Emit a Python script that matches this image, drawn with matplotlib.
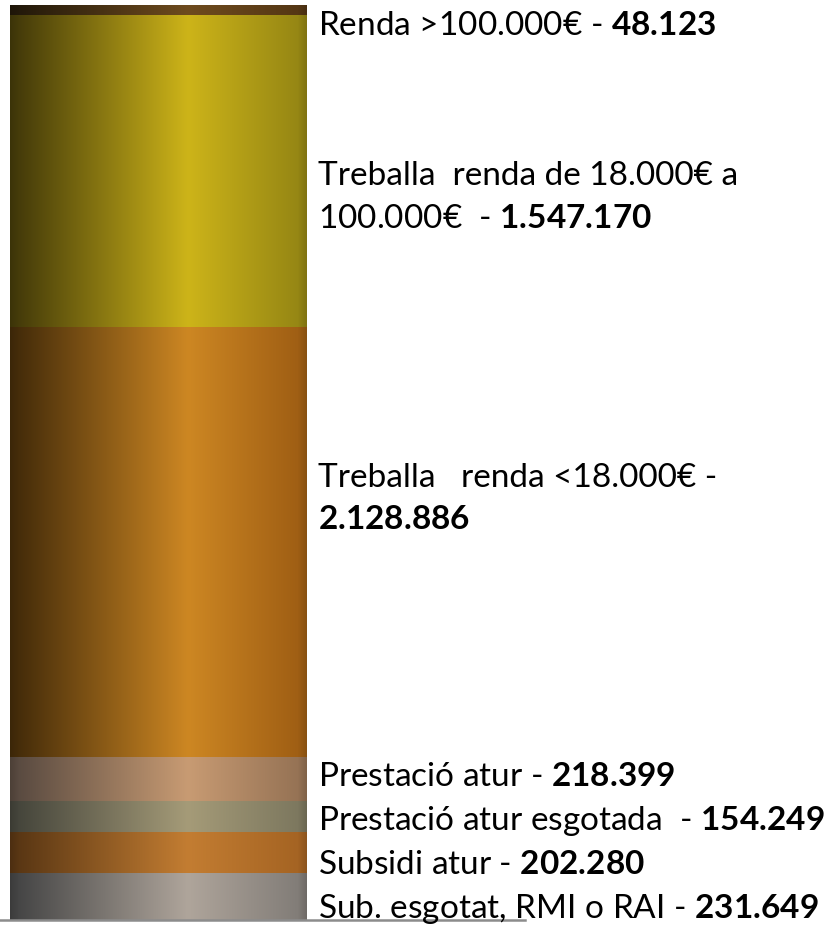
import numpy as np
import matplotlib
matplotlib.use("Agg")
import matplotlib.pyplot as plt

plt.rcParams['font.family'] = ['Lato', 'DejaVu Sans']
plt.rcParams['mathtext.fontset'] = 'custom'
plt.rcParams['mathtext.rm'] = 'Lato'
plt.rcParams['mathtext.bf'] = 'Lato:bold'

# ---- data (bottom -> top) ----
categories = ["Sub. esgotat, RMI o RAI", "Subsidi atur", "Prestació atur esgotada",
              "Prestació atur", "Treballa   renda <18.000€",
              "Treballa  renda de 18.000€ a 100.000€", "Renda >100.000€"]
values = [231649, 202280, 154249, 218399, 2128886, 1547170, 48123]
value_labels = ["231.649", "202.280", "154.249", "218.399", "2.128.886", "1.547.170", "48.123"]

# shading colours: left (dark), highlight, right edge
left_colors = ["#464646", "#5a3714", "#46463c", "#5a4b41", "#462d0a", "#463c0a", "#23190a"]
peak_colors = ["#afa59b", "#c37d32", "#a59b78", "#c89b73", "#cd8723", "#cdb419", "#6e4b1e"]
right_colors = ["#827d78", "#a56423", "#7d785f", "#967355", "#a05f14", "#968714", "#553714"]

# label text lines: (text, baseline px from top)
label_lines = [
    ("Renda >100.000€ - $\\mathbf{48.123}$", 35),
    ("Treballa  renda de 18.000€ a", 185),
    ("100.000€  - $\\mathbf{1.547.170}$", 228),
    ("Treballa   renda <18.000€ -", 487),
    ("$\\mathbf{2.128.886}$", 529),
    ("Prestació atur - $\\mathbf{218.399}$", 786),
    ("Prestació atur esgotada  - $\\mathbf{154.249}$", 830),
    ("Subsidi atur - $\\mathbf{202.280}$", 874),
    ("Sub. esgotat, RMI o RAI - $\\mathbf{231.649}$", 918),
]

W, H = 840, 928
fig = plt.figure(figsize=(W / 100, H / 100), dpi=100)
fig.patch.set_facecolor("white")
ax = fig.add_axes([0, 7 / H, 525 / W, (H - 6 - 7) / H])

total = sum(values)
bottoms = np.concatenate([[0], np.cumsum(values)[:-1]])
bars = ax.bar([0] * len(values), values, bottom=bottoms, width=1.0,
              color=peak_colors, linewidth=0, zorder=1)

def rgb(h):
    h = h.lstrip('#')
    return np.array([int(h[i:i + 2], 16) for i in (0, 2, 4)]) / 255.0

t = np.linspace(0, 1, 400)
for patch, lc, pc, rc in zip(bars.patches, left_colors, peak_colors, right_colors):
    L, P, R = rgb(lc), rgb(pc), rgb(rc)
    knots_t = [0.0, 0.03, 0.6, 0.97, 1.0]
    knots_c = [L * 0.85, L, P, R, R * 0.85]
    img = np.stack([np.interp(t, knots_t, [k[i] for k in knots_c]) for i in range(3)], axis=-1)
    img = np.clip(img[None, :, :], 0, 1)
    x0, y0 = patch.get_x(), patch.get_y()
    im = ax.imshow(img, extent=[x0, x0 + patch.get_width(), y0, y0 + patch.get_height()],
                   aspect='auto', interpolation='bilinear', zorder=2)
    im.set_clip_path(patch)

ax.set_xlim(-0.5 - 10 / 297, 0.5 + (525 - 307) / 297)
ax.set_ylim(0, total)
for s in ("top", "right", "left"):
    ax.spines[s].set_visible(False)
ax.spines["bottom"].set_color("#8c8c8c")
ax.spines["bottom"].set_linewidth(1.8)
ax.spines["bottom"].set_zorder(5)
ax.set_xticks([])
ax.set_yticks([])
ax.patch.set_alpha(0)

for txt, base in label_lines:
    fig.text(318 / W, 1 - base / H, txt, fontsize=24, color="black",
             ha="left", va="baseline")

fig.savefig("out.png", dpi=100, facecolor="white")
